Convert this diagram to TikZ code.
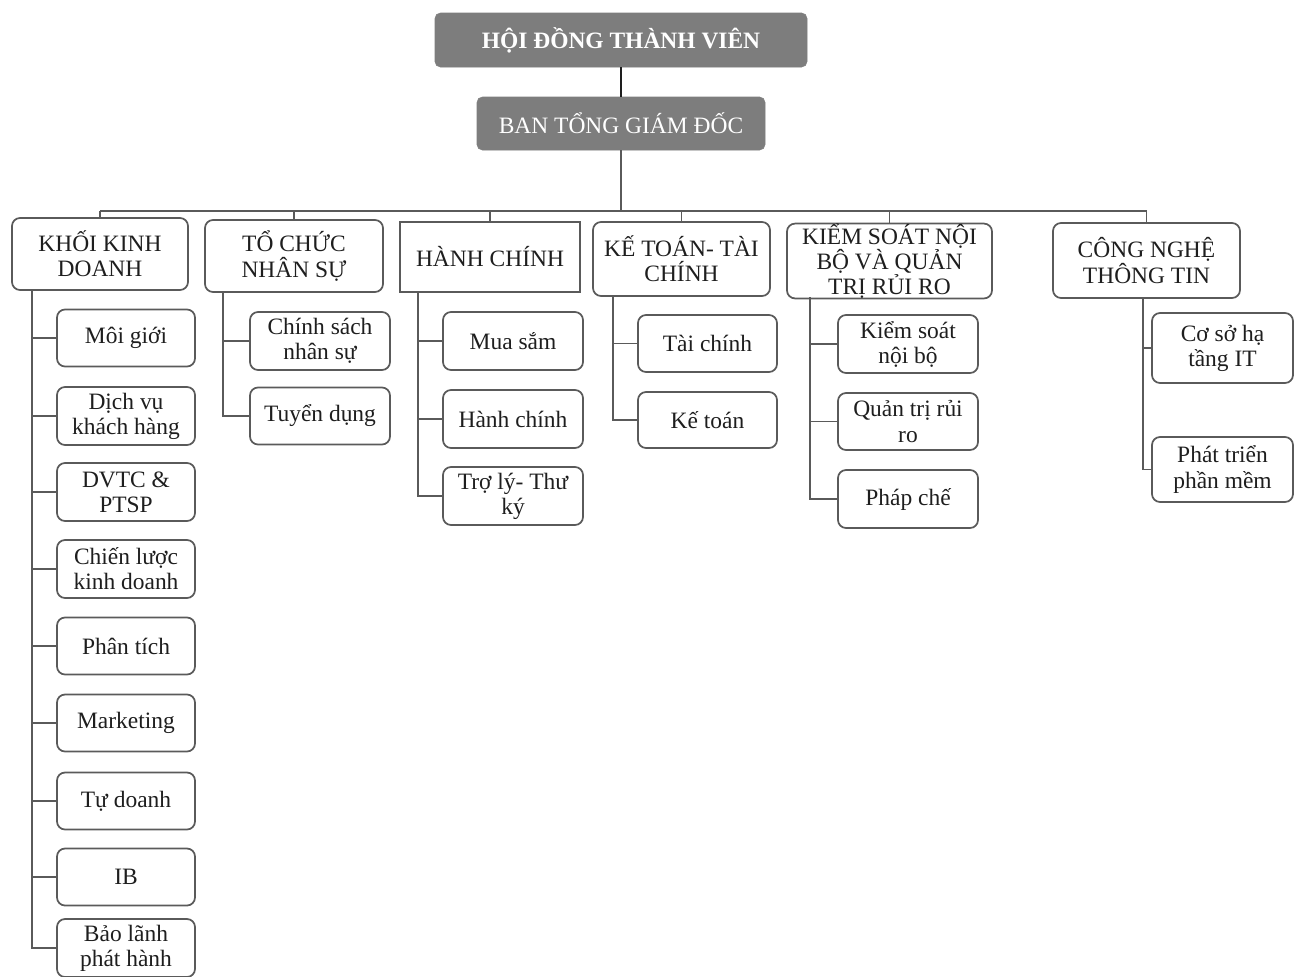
\documentclass[tikz,border=0pt]{standalone}
\usepackage{fontspec}
\setmainfont{Liberation Serif}
\definecolor{hdr}{RGB}{125,125,125}
\definecolor{edge}{RGB}{90,90,90}
\definecolor{ink}{RGB}{30,30,30}
\begin{document}
\begin{tikzpicture}[x=0.75pt,y=-0.75pt,
  wh/.style 2 args={minimum width=#1*0.75pt, minimum height=#2*0.75pt},
  base/.style={inner sep=0pt, align=center, text=ink, font=\fontsize{17.6}{18.8}\selectfont},
  topbox/.style={base, fill=hdr, draw=hdr, rounded corners=4pt, text=white},
  headbox/.style={base, draw=edge, line width=1.3pt, rounded corners=6pt},
  sqbox/.style={base, draw=edge, line width=1.3pt},
  kid/.style={base, draw=edge, line width=1.3pt, rounded corners=6pt},
  link/.style={draw=edge, line width=1.2pt},
  thick link/.style={draw=ink, line width=2.2pt}
]
\useasboundingbox (0,0) rectangle (1303,976);

% top level
\node[topbox, wh={372}{54}, font=\fontsize{17.6}{18.8}\selectfont\bfseries] (hdtv) at (621,40) {HỘI ĐỒNG THÀNH VIÊN};
\node[topbox, wh={288}{53}] (btgd) at (621,123.5) {BAN TỔNG GIÁM ĐỐC};
\draw[thick link] (hdtv.south) -- (btgd.north);

% heads
\node[headbox, wh={176}{72}] (h1) at (100,254) {KHỐI KINH\\DOANH};
\node[headbox, wh={178}{72}] (h2) at (294,256) {TỔ CHỨC\\NHÂN SỰ};
\node[sqbox, wh={180}{70}] (h3) at (490,257) {HÀNH CHÍNH};
\node[headbox, wh={177}{74}] (h4) at (681.5,259) {KẾ TOÁN- TÀI\\CHÍNH};
\node[headbox, wh={205}{72}] (h5) at (889.5,261) {KIỂM SOÁT NỘI\\BỘ VÀ QUẢN\\TRỊ RỦI RO};
\node[headbox, wh={187}{75}] (h6) at (1146.5,260.5) {CÔNG NGHỆ\\THÔNG TIN};

% bus
\coordinate (bus) at (621,211);
\draw[link] (btgd.south) -- (bus);
\draw[link] (h1.north |- bus) -- (h6.north |- bus);
\foreach \h in {h1,h2,h3,h4,h5,h6} \draw[link] (\h.north |- bus) -- (\h.north);

% column 1
\node[kid, wh={138}{57}] (k1) at (126,338) {Môi giới};
\node[kid, wh={138}{58}] (k2) at (126,416) {Dịch vụ\\khách hàng};
\node[kid, wh={138}{58}] (k3) at (126,492) {DVTC \&\\PTSP};
\node[kid, wh={138}{58}] (k4) at (126,569) {Chiến lược\\kinh doanh};
\node[kid, wh={138}{57}] (k5) at (126,646) {Phân tích};
\node[kid, wh={138}{57}] (k6) at (126,723) {Marketing};
\node[kid, wh={138}{57}] (k7) at (126,801) {Tự doanh};
\node[kid, wh={138}{57}] (k8) at (126,877) {IB};
\node[kid, wh={138}{58}] (k9) at (126,948) {Bảo lãnh\\phát hành};
\coordinate (s1) at (32,290);
\draw[link] (s1) |- (k9.west);
\foreach \k in {k1,k2,k3,k4,k5,k6,k7,k8} \draw[link] (s1 |- \k.west) -- (\k.west);

% column 2
\node[kid, wh={140}{58}] (t1) at (320,341) {Chính sách\\nhân sự};
\node[kid, wh={140}{57}] (t2) at (320,416) {Tuyển dụng};
\coordinate (s2) at (223,292);
\draw[link] (s2) |- (t2.west);
\draw[link] (s2 |- t1.west) -- (t1.west);

% column 3
\node[kid, wh={140}{58}] (a1) at (513,341) {Mua sắm};
\node[kid, wh={140}{58}] (a2) at (513,419) {Hành chính};
\node[kid, wh={140}{58}] (a3) at (513,496) {Trợ lý- Thư\\ký};
\coordinate (s3) at (418,292);
\draw[link] (s3) |- (a3.west);
\foreach \k in {a1,a2} \draw[link] (s3 |- \k.west) -- (\k.west);

% column 4
\node[kid, wh={139}{57}] (f1) at (707.5,343.5) {Tài chính};
\node[kid, wh={139}{56}] (f2) at (707.5,420) {Kế toán};
\coordinate (s4) at (613,296);
\draw[link] (s4) |- (f2.west);
\draw[link] (s4 |- f1.west) -- (f1.west);

% column 5
\node[kid, wh={140}{58}] (r1) at (908,344) {Kiểm soát\\nội bộ};
\node[kid, wh={140}{57}] (r2) at (908,421.5) {Quản trị rủi\\ro};
\node[kid, wh={140}{58}] (r3) at (908,499) {Pháp chế};
\coordinate (s5) at (810,297);
\draw[link] (s5) |- (r3.west);
\foreach \k in {r1,r2} \draw[link] (s5 |- \k.west) -- (\k.west);

% column 6
\node[kid, wh={141}{70}] (i1) at (1222.5,348) {Cơ sở hạ\\tầng IT};
\node[kid, wh={141}{65}] (i2) at (1222.5,469.5) {Phát triển\\phần mềm};
\coordinate (s6) at (1143,298);
\draw[link] (s6) |- (i2.west);
\draw[link] (s6 |- i1.west) -- (i1.west);
\end{tikzpicture}
\end{document}
